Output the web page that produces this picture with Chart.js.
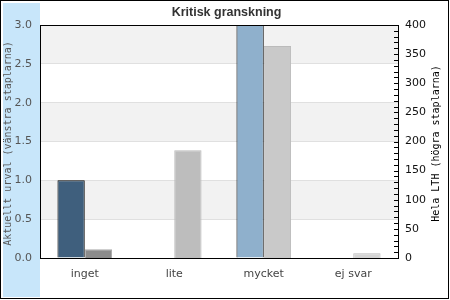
<!DOCTYPE html>
<html>
<head>
<meta charset="utf-8">
<script src="https://cdn.jsdelivr.net/npm/chart.js@4/dist/chart.umd.min.js"></script>
<style>
  html, body { margin: 0; padding: 0; background: #fff; }
  #wrap { width: 450px; height: 300px; }
</style>
</head>
<body>
<div id="wrap"><canvas id="chart" width="450" height="300"></canvas></div>
<script>
const categories = ['inget', 'lite', 'mycket', 'ej svar'];
const urvalValues = [1, 0, 3, 0];          // left bars, left axis
const lthValues = [15, 185, 364, 8];       // right bars, right axis
const leftTicks = [0, 0.5, 1, 1.5, 2, 2.5, 3];
const rightTicks = [0, 50, 100, 150, 200, 250, 300, 350, 400];

const urvalColors = ['#3f5f7d', '#6688a6', '#8fb0cc', '#b4cde0'];
const lthColors = ['#8c8c8c', '#bdbdbd', '#c9c9c9', '#d4d4d4'];

// background, bands, borders, right-axis minor ticks and titles
const decor = {
  id: 'decor',
  beforeDraw(chart) {
    const ctx = chart.ctx;
    const a = chart.chartArea;
    const y = chart.scales.y;
    ctx.save();
    ctx.fillStyle = '#fff';
    ctx.fillRect(0, 0, chart.width, chart.height);
    ctx.fillStyle = '#c8e6fa';
    ctx.fillRect(3, 3, a.left - 3, chart.height - 6);
    ctx.strokeStyle = '#000';
    ctx.lineWidth = 1;
    ctx.strokeRect(0.5, 0.5, 448, 298);
    // alternating bands 0.5-1, 1.5-2, 2.5-3
    ctx.fillStyle = '#f2f2f2';
    for (let i = 1; i + 1 < leftTicks.length; i += 2) {
      const top = y.getPixelForValue(leftTicks[i + 1]);
      const bot = y.getPixelForValue(leftTicks[i]);
      ctx.fillRect(a.left, top, a.right - a.left, bot - top);
    }
    ctx.restore();
  },
  afterDatasetsDraw(chart) {
    const ctx = chart.ctx;
    const a = chart.chartArea;
    const y1 = chart.scales.y1;
    ctx.save();
    ctx.strokeStyle = '#000';
    ctx.lineWidth = 1;
    ctx.strokeRect(Math.round(a.left) + 0.5, Math.round(a.top) + 0.5,
      Math.round(a.right - a.left), Math.round(a.bottom - a.top));
    // inward minor ticks on the right axis
    ctx.beginPath();
    for (let v = 0; v <= rightTicks[rightTicks.length - 1]; v += 10) {
      const py = Math.round(y1.getPixelForValue(v)) + 0.5;
      ctx.moveTo(a.right - 4, py);
      ctx.lineTo(a.right, py);
    }
    ctx.stroke();

    ctx.font = '10px "DejaVu Sans Mono"';
    ctx.textAlign = 'center';
    ctx.textBaseline = 'middle';
    const mid = (a.top + a.bottom) / 2 + 2;
    ctx.translate(8.5, mid);
    ctx.rotate(-Math.PI / 2);
    ctx.fillStyle = '#555';
    ctx.fillText('Aktuellt urval (vänstra staplarna)', 0, 0);
    ctx.setTransform(1, 0, 0, 1, 0, 0);
    ctx.translate(436, mid);
    ctx.rotate(-Math.PI / 2);
    ctx.fillStyle = '#000';
    ctx.fillText('Hela LTH (högra staplarna)', 0, 0);
    ctx.restore();
  }
};

new Chart(document.getElementById('chart'), {
  type: 'bar',
  data: {
    labels: categories,
    datasets: [{
      label: 'Aktuellt urval',
      data: urvalValues,
      yAxisID: 'y',
      backgroundColor: urvalColors,
      borderColor: '#000',
      borderWidth: 1
    }, {
      label: 'Hela LTH',
      data: lthValues,
      yAxisID: 'y1',
      backgroundColor: lthColors,
      borderColor: ['#aaaaaa', '#bbbbbb', '#bbbbbb', '#bbbbbb'],
      borderWidth: 1
    }]
  },
  options: {
    responsive: false,
    animation: false,
    devicePixelRatio: 1,
    layout: { padding: { left: 3, right: 0, top: 0, bottom: 0 } },
    categoryPercentage: 0.61,
    barPercentage: 1.0,
    plugins: {
      legend: { display: false },
      tooltip: { enabled: false },
      title: {
        display: true,
        text: 'Kritisk granskning',
        color: '#333',
        font: { family: '"Liberation Sans", Arial', size: 12.5, weight: 'bold' },
        padding: { top: 5, bottom: 5 }
      }
    },
    scales: {
      x: {
        grid: { display: false, drawTicks: false },
        border: { display: false },
        ticks: { color: '#444', padding: 10, font: { family: '"DejaVu Sans"', size: 11 } },
        afterFit(s) { s.height = 42; }
      },
      y: {
        position: 'left',
        min: 0,
        max: 3,
        grid: { color: '#e0e0e0', drawTicks: false },
        border: { display: false },
        ticks: {
          stepSize: 0.5,
          color: '#555',
          padding: 8,
          font: { family: '"DejaVu Sans"', size: 11 },
          callback: v => v.toFixed(1)
        },
        afterFit(s) { s.width = 37; }
      },
      y1: {
        position: 'right',
        min: 0,
        max: 400,
        grid: { display: false, drawTicks: false },
        border: { display: false },
        ticks: {
          stepSize: 50,
          color: '#111',
          padding: 7,
          font: { family: '"DejaVu Sans"', size: 11 }
        },
        afterFit(s) { s.width = 52; }
      }
    }
  },
  plugins: [decor]
});
</script>
</body>
</html>
